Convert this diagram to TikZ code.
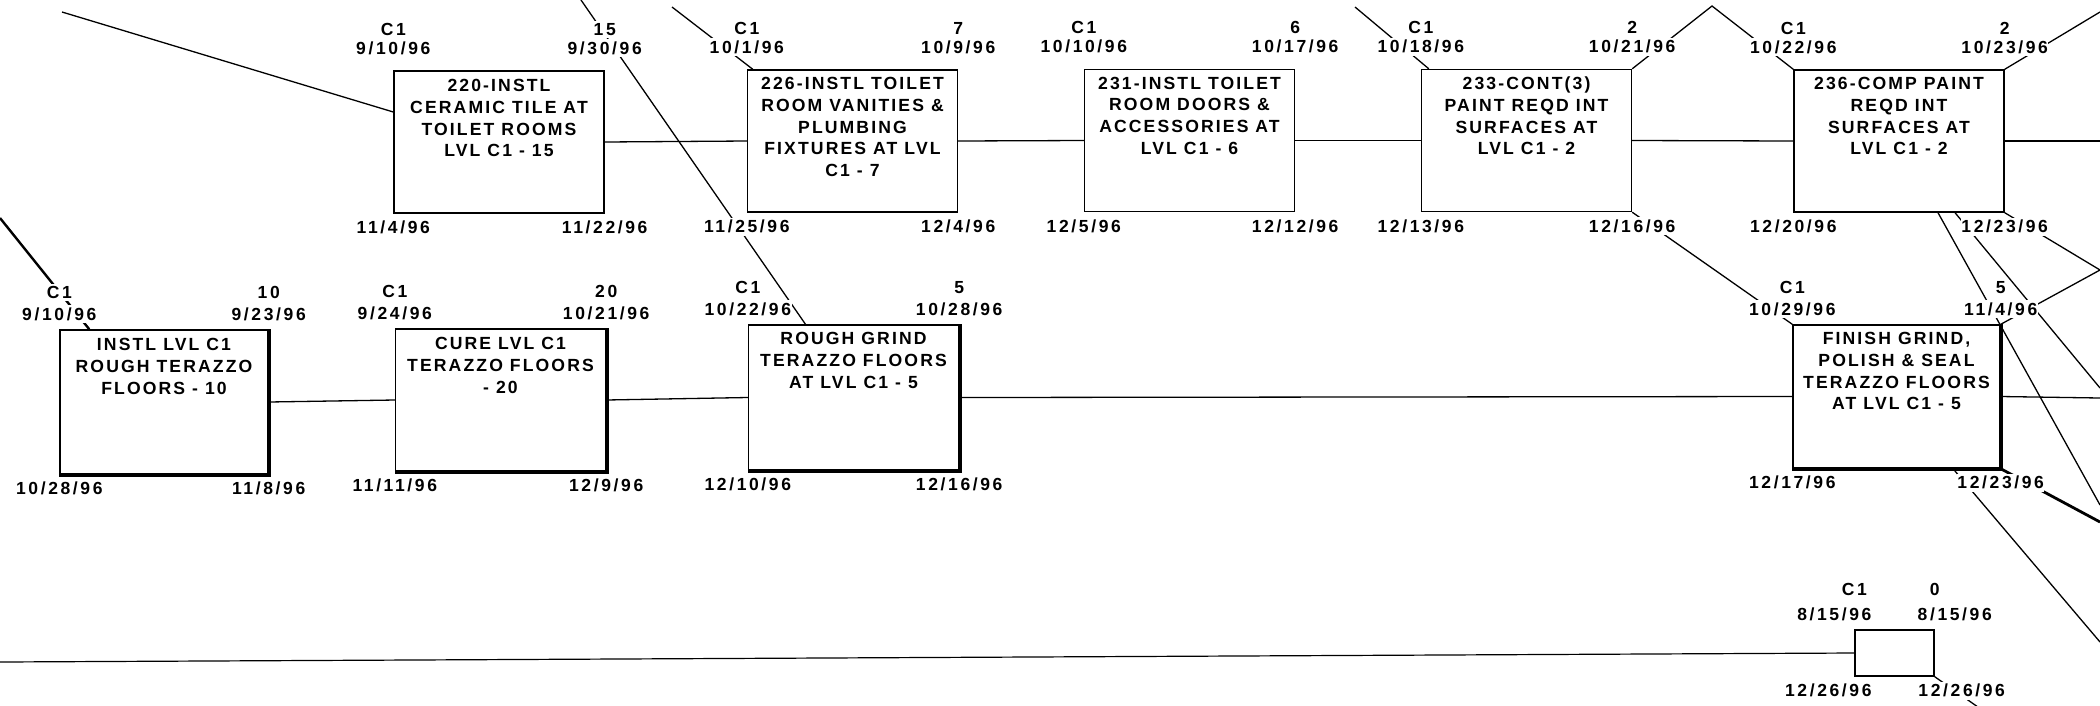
\documentclass[tikz,border=0pt]{standalone}
\usepackage{fontspec}
\setmainfont{Liberation Sans}
\newfontfamily\boxfnt{Liberation Sans}[LetterSpace=12]
\newfontfamily\labfnt{Liberation Sans}[LetterSpace=15]
\tikzset{
 act/.style={draw, line width=1.4pt, fill=white, minimum width=210pt, minimum height=142pt, inner sep=0pt},
 acttext/.style={anchor=north, align=center, inner sep=0pt, font=\boxfnt\bfseries\fontsize{17.6}{21.7}\selectfont},
 lab/.style={fill=white, inner xsep=0.5pt, inner ysep=2.5pt, font=\labfnt\bfseries\fontsize{17.5}{20}\selectfont},
 link/.style={line width=1.3pt},
 crit/.style={line width=2.8pt},
}
\def\offA{38pt}
\def\offB{16pt}
\newcommand\mkLabels[7]{%
 \node[lab,yshift=\offA] (#1-tl1) at (#1.north west) {#2};
 \node[lab,yshift=\offB] (#1-tl2) at (#1.north west) {#4};
 \node[lab,yshift=\offA] (#1-tr1) at (#1.north east) {#3};
 \node[lab,yshift=\offB] (#1-tr2) at (#1.north east) {#5};
 \node[lab,yshift=-14pt] (#1-bl) at (#1.south west) {#6};
 \node[lab,yshift=-14pt] (#1-br) at (#1.south east) {#7};
}
\newcommand\heavyEdge[1]{%
 \draw[line width=3pt] ([xshift=0.8pt]#1.north east) -- ([xshift=0.8pt,yshift=-0.8pt]#1.south east) -- ([yshift=-0.8pt]#1.south west);}
\begin{document}
\begin{tikzpicture}[x=1pt,y=-1pt]
\useasboundingbox (0,0) rectangle (2100,705);
\clip (0,0) rectangle (2100,705);
% free ends
\coordinate (e1) at (62,12);
\coordinate (e2) at (581,0);
\coordinate (e3) at (672,7);
\coordinate (e4) at (1355,7);
\coordinate (peak) at (1712,6);
\coordinate (e5) at (2100,12);
\coordinate (r1) at (2100,141);
\coordinate (eA) at (2100,505);
\coordinate (eB) at (2100,388);
\coordinate (eC) at (2100,270);
\coordinate (e6) at (0,218);
\coordinate (r2) at (2100,398);
\coordinate (eF) at (2100,522);
\coordinate (eG) at (2100,642);
\coordinate (e7) at (0,662);
\coordinate (e8) at (1985,712);
% boxes (positions)
\path
 (499,142) node[act] (b220) {}
 (852.5,141) node[act] (b226) {}
 (1189.5,140.5) node[act] (b231) {}
 (1526.5,140.5) node[act] (b233) {}
 (1899,141) node[act] (b236) {}
 (164,402) node[act, minimum width=208pt, minimum height=144pt] (bI) {}
 (500.5,400) node[act] (bC) {}
 (853.5,397.5) node[act, minimum height=145pt] (bR) {}
 (1896.5,396.5) node[act, minimum width=207pt, minimum height=143pt] (bF) {}
 (1894.5,653) node[act, minimum width=79pt, minimum height=46pt] (bS) {};
% connectors
\draw[link] (e1) -- ([yshift=30pt]b220.west);
\draw[link] (e2) -- ([xshift=-48pt]bR.north);
\draw[link] (e3) -- ([xshift=6pt]b226.north west);
\draw[link] (b220.east) -- (b226.west);
\draw[link] (b226.east) -- (b231.west);
\draw[link] (b231.east) -- (b233.west);
\draw[link] (b233.east) -- (b236.west);
\draw[link] (b236.east) -- (r1);
\draw[link] (e4) -- ([xshift=8pt]b233.north west);
\draw[link] (b233.north east) -- (peak) -- (b236.north west);
\draw[link] (b236.north east) -- (e5);
\draw[link] ([xshift=39pt]b236.south) -- (eA);
\draw[link] ([xshift=56pt]b236.south) -- (eB);
\draw[link] (b236.south east) -- (eC) -- (bF.north east);
\draw[link] (b233.south east) -- (bF.north west);
\draw[line width=2.4pt] (e6) -- ([xshift=30pt]bI.north west);
\draw[link] (bI.east) -- (bC.west);
\draw[link] (bC.east) -- (bR.west);
\draw[link] (bR.east) -- (bF.west);
\draw[link] (bF.east) -- (r2);
\draw[crit] (bF.south east) -- (eF);
\draw[link] ([xshift=56.5pt]bF.south) -- (eG);
\draw[line width=1.2pt] (e7) -- (bS.west);
\draw[link] (bS.south east) -- (e8);
% redraw boxes on top
\path
 (499,142) node[act] {}
 (852.5,141) node[act] {}
 (1189.5,140.5) node[act] {}
 (1526.5,140.5) node[act] {}
 (1899,141) node[act] {}
 (164,402) node[act, minimum width=208pt, minimum height=144pt] {}
 (500.5,400) node[act] {}
 (853.5,397.5) node[act, minimum height=145pt] {}
 (1896.5,396.5) node[act, minimum width=207pt, minimum height=143pt] {}
 (1894.5,653) node[act, minimum width=79pt, minimum height=46pt] {};
\heavyEdge{bI}
\heavyEdge{bC}
\heavyEdge{bR}
\heavyEdge{bF}
% box texts
\node[acttext] (t220) at ([yshift=-9pt]b220.north) {220-INSTL\\CERAMIC TILE AT\\TOILET ROOMS\\LVL C1 - 15};
\node[acttext] (t226) at ([yshift=-8pt]b226.north) {226-INSTL TOILET\\ROOM VANITIES \&\\PLUMBING\\FIXTURES AT LVL\\C1 - 7};
\node[acttext] (t231) at ([yshift=-8pt]b231.north) {231-INSTL TOILET\\ROOM DOORS \&\\ACCESSORIES AT\\LVL C1 - 6};
\node[acttext] (t233) at ([yshift=-8pt]b233.north) {233-CONT(3)\\PAINT REQD INT\\SURFACES AT\\LVL C1 - 2};
\node[acttext] (t236) at ([yshift=-8pt]b236.north) {236-COMP PAINT\\REQD INT\\SURFACES AT\\LVL C1 - 2};
\node[acttext] (tI) at ([yshift=-9pt]bI.north) {INSTL LVL C1\\ROUGH TERAZZO\\FLOORS - 10};
\node[acttext] (tC) at ([yshift=-9pt]bC.north) {CURE LVL C1\\TERAZZO FLOORS\\- 20};
\node[acttext] (tR) at ([yshift=-8pt]bR.north) {ROUGH GRIND\\TERAZZO FLOORS\\AT LVL C1 - 5};
\node[acttext] (tF) at ([yshift=-8pt]bF.north) {FINISH GRIND,\\POLISH \& SEAL\\TERAZZO FLOORS\\AT LVL C1 - 5};
% labels, top row
\def\offA{41pt}\def\offB{22pt}
\mkLabels{b220}{C1}{15}{9/10/96}{9/30/96}{11/4/96}{11/22/96}
\mkLabels{b226}{C1}{7}{10/1/96}{10/9/96}{11/25/96}{12/4/96}
\mkLabels{b231}{C1}{6}{10/10/96}{10/17/96}{12/5/96}{12/12/96}
\mkLabels{b233}{C1}{2}{10/18/96}{10/21/96}{12/13/96}{12/16/96}
\mkLabels{b236}{C1}{2}{10/22/96}{10/23/96}{12/20/96}{12/23/96}
% labels, bottom row
\def\offA{37pt}\def\offB{15pt}
\mkLabels{bI}{C1}{10}{9/10/96}{9/23/96}{10/28/96}{11/8/96}
\mkLabels{bC}{C1}{20}{9/24/96}{10/21/96}{11/11/96}{12/9/96}
\mkLabels{bR}{C1}{5}{10/22/96}{10/28/96}{12/10/96}{12/16/96}
\mkLabels{bF}{C1}{5}{10/29/96}{11/4/96}{12/17/96}{12/23/96}
\node[lab,yshift=40pt] (bS-tl1) at (bS.north west) {C1};
\node[lab,yshift=40pt] (bS-tr1) at (bS.north east) {0};
\node[lab,xshift=-20pt,yshift=15pt] (bS-tl2) at (bS.north west) {8/15/96};
\node[lab,xshift=20pt,yshift=15pt] (bS-tr2) at (bS.north east) {8/15/96};
\node[lab,xshift=-26pt,yshift=-14pt] (bS-bl) at (bS.south west) {12/26/96};
\node[lab,xshift=27pt,yshift=-14pt] (bS-br) at (bS.south east) {12/26/96};
\end{tikzpicture}
\end{document}
